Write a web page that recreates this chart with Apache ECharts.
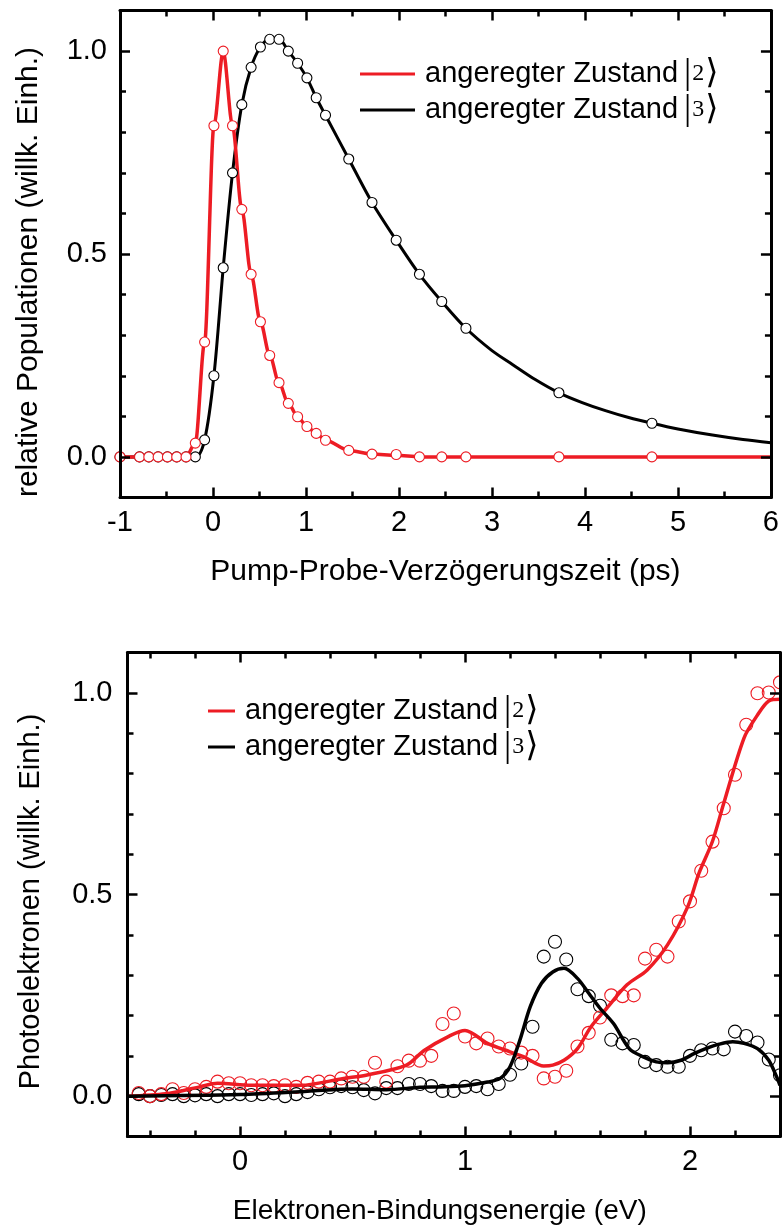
<!DOCTYPE html>
<html><head><meta charset="utf-8">
<script src="https://cdn.jsdelivr.net/npm/echarts@6/dist/echarts.min.js"></script>
<style>html,body{margin:0;padding:0;background:#fff}#c{width:782px;height:1232px}</style>
</head><body><div id="c"></div>
<script>
// ---------- top panel: populations vs. pump-probe delay ----------
const delayTimes = [-1.0, -0.79, -0.69, -0.59, -0.49, -0.39, -0.29, -0.19, -0.09, 0.01, 0.11, 0.21, 0.31, 0.41, 0.51, 0.61, 0.71, 0.81, 0.91, 1.01, 1.11, 1.21, 1.46, 1.71, 1.97, 2.22, 2.46, 2.72, 3.72, 4.72];
const popState2 = [0, 0, 0, 0, 0, 0, 0, 0.034, 0.283, 0.816, 1.0, 0.816, 0.61, 0.45, 0.333, 0.25, 0.183, 0.132, 0.099, 0.075, 0.058, 0.041, 0.016, 0.007, 0.006, 0, 0, 0, 0, 0];
const popState3 = [0, 0, 0, 0, 0, 0, 0, 0, 0.042, 0.20, 0.466, 0.70, 0.868, 0.96, 1.01, 1.029, 1.029, 1.0, 0.97, 0.934, 0.885, 0.842, 0.734, 0.627, 0.534, 0.45, 0.383, 0.317, 0.158, 0.083];
const fitTimes2 = [-1.0, -0.29, -0.19, -0.09, 0.01, 0.11, 0.21, 0.31, 0.41, 0.51, 0.61, 0.71, 0.81, 0.91, 1.01, 1.11, 1.21, 1.46, 1.71, 1.97, 2.22, 6.0];
const fitPop2  = [0, 0, 0.034, 0.283, 0.816, 1.0, 0.816, 0.61, 0.45, 0.333, 0.25, 0.183, 0.132, 0.099, 0.075, 0.058, 0.041, 0.016, 0.007, 0.004, 0.0, 0.0];
const fitTimes3 = [-1.0, -0.19, -0.09, 0.01, 0.11, 0.21, 0.31, 0.41, 0.51, 0.61, 0.71, 0.81, 0.91, 1.01, 1.11, 1.21, 1.46, 1.71, 1.97, 2.22, 2.46, 2.72, 3.0, 3.22, 3.47, 3.72, 3.97, 4.22, 4.47, 4.72, 5.0, 5.37, 5.7, 6.0];
const fitPop3  = [0, 0, 0.042, 0.20, 0.466, 0.70, 0.868, 0.96, 1.01, 1.029, 1.029, 1.0, 0.97, 0.934, 0.885, 0.842, 0.734, 0.627, 0.534, 0.45, 0.383, 0.317, 0.262, 0.228, 0.19, 0.158, 0.134, 0.114, 0.097, 0.083, 0.069, 0.054, 0.043, 0.035];
const topXTicks = [-1, 0, 1, 2, 3, 4, 5, 6];
const topXMinor = [-0.5, 0.5, 1.5, 2.5, 3.5, 4.5, 5.5];
const yTicks = [0, 0.5, 1.0];
const yMinor = [-0.1, 0.1, 0.2, 0.3, 0.4, 0.6, 0.7, 0.8, 0.9, 1.1];

// ---------- bottom panel: photoelectron spectra ----------
const energies = [-0.45, -0.40, -0.35, -0.30, -0.25, -0.20, -0.15, -0.10, -0.05, 0.00, 0.05, 0.10, 0.15, 0.20, 0.25, 0.30, 0.35, 0.40, 0.45, 0.50, 0.55, 0.60, 0.65, 0.70, 0.75, 0.80, 0.85, 0.90, 0.95, 1.00, 1.05, 1.10, 1.15, 1.20, 1.25, 1.30, 1.35, 1.40, 1.45, 1.50, 1.55, 1.60, 1.65, 1.70, 1.75, 1.80, 1.85, 1.90, 1.95, 2.00, 2.05, 2.10, 2.15, 2.20, 2.25, 2.30, 2.35, 2.40];
const pesState2 = [0.008, 0.000, 0.005, 0.017, 0.008, 0.017, 0.023, 0.036, 0.032, 0.032, 0.027, 0.027, 0.025, 0.027, 0.023, 0.033, 0.036, 0.036, 0.044, 0.048, 0.048, 0.083, 0.036, 0.074, 0.088, 0.088, 0.100, 0.179, 0.205, 0.148, 0.131, 0.143, 0.123, 0.118, 0.108, 0.100, 0.044, 0.048, 0.063, 0.123, 0.157, 0.195, 0.250, 0.248, 0.250, 0.341, 0.363, 0.346, 0.433, 0.483, 0.559, 0.631, 0.714, 0.797, 0.921, 0.999, 1.001, 1.026];
const pesState3 = [0.005, 0.000, 0.003, 0.005, 0.000, 0.002, 0.005, 0.000, 0.005, 0.005, 0.003, 0.005, 0.007, 0.000, 0.005, 0.010, 0.017, 0.022, 0.025, 0.022, 0.015, 0.007, 0.020, 0.020, 0.030, 0.030, 0.025, 0.013, 0.013, 0.023, 0.025, 0.017, 0.030, 0.053, 0.081, 0.172, 0.346, 0.383, 0.339, 0.265, 0.248, 0.224, 0.140, 0.131, 0.127, 0.085, 0.077, 0.073, 0.073, 0.100, 0.114, 0.118, 0.116, 0.160, 0.149, 0.133, 0.091, 0.052];
const fitE2 = [-0.5, -0.33, -0.18, -0.10, 0.05, 0.27, 0.46, 0.56, 0.74, 0.82, 0.93, 1.00, 1.10, 1.20, 1.26, 1.35, 1.39, 1.44, 1.50, 1.56, 1.63, 1.72, 1.81, 1.90, 1.99, 2.04, 2.10, 2.15, 2.24, 2.30, 2.35, 2.40];
const fitV2 = [0.0, 0.006, 0.023, 0.032, 0.027, 0.027, 0.044, 0.052, 0.077, 0.114, 0.149, 0.163, 0.131, 0.110, 0.098, 0.075, 0.077, 0.089, 0.118, 0.172, 0.218, 0.276, 0.313, 0.375, 0.470, 0.553, 0.632, 0.726, 0.888, 0.945, 0.980, 0.984];
const fitE3 = [-0.5, 0.0, 0.3, 0.5, 0.65, 0.8, 0.89, 1.0, 1.1, 1.156, 1.2, 1.244, 1.29, 1.34, 1.39, 1.44, 1.5, 1.55, 1.6, 1.66, 1.73, 1.79, 1.85, 1.9, 1.96, 2.02, 2.07, 2.13, 2.19, 2.24, 2.3, 2.35, 2.385, 2.4];
const fitV3 = [0.0, 0.004, 0.012, 0.018, 0.016, 0.022, 0.023, 0.026, 0.035, 0.044, 0.073, 0.139, 0.222, 0.280, 0.308, 0.317, 0.292, 0.255, 0.218, 0.18, 0.118, 0.098, 0.085, 0.083, 0.089, 0.106, 0.118, 0.129, 0.135, 0.131, 0.118, 0.089, 0.048, 0.027];
const botXTicks = [0, 1, 2];
const botXMinor = [-0.4, -0.2, 0.2, 0.4, 0.6, 0.8, 1.2, 1.4, 1.6, 1.8, 2.2, 2.4];

const legendText = 'angeregter Zustand';
const ketDigits = ['2', '3'];

const RED = '#ed1c24', BLACK = '#000';
const FONT = "'Liberation Sans', Arial, sans-serif";
const SERIF = "'Liberation Serif', 'DejaVu Serif', serif";
const FS = 29;

function zip(a, b) { return a.map((v, i) => [v, b[i]]); }

function axesFor(dim, grid, min, max, majors, minors, fmt, name, nameGap, margin, nameStyle) {
  const isX = dim === 'x';
  const p1 = isX ? 'bottom' : 'left', p2 = isX ? 'top' : 'right';
  const base = { type: 'value', gridIndex: grid, min: min, max: max, splitLine: { show: false }, z: 10 };
  const tickStyle = { color: '#000', width: 2.5 };
  const main = Object.assign({}, base, {
    position: p1,
    axisLine: { show: true, onZero: false, lineStyle: { color: '#000', width: 3 } },
    axisTick: { show: true, inside: true, length: 10, lineStyle: tickStyle, customValues: majors },
    axisLabel: { show: true, customValues: majors, formatter: fmt, margin: margin, color: '#000', fontSize: FS, fontFamily: FONT },
    name: name, nameLocation: 'middle', nameGap: nameGap,
    nameTextStyle: Object.assign({ color: '#000', fontSize: FS, fontFamily: FONT }, nameStyle || {})
  });
  const minor1 = Object.assign({}, base, {
    position: p1,
    axisLine: { show: false, onZero: false },
    axisTick: { show: true, inside: true, length: 6, lineStyle: tickStyle, customValues: minors },
    axisLabel: { show: false }
  });
  const mirror = Object.assign({}, base, {
    position: p2,
    axisLine: { show: true, onZero: false, lineStyle: { color: '#000', width: 3 } },
    axisTick: { show: true, inside: true, length: 10, lineStyle: tickStyle, customValues: majors },
    axisLabel: { show: false }
  });
  const minor2 = Object.assign({}, minor1, { position: p2 });
  return [main, minor1, mirror, minor2];
}

const fmtInt = v => String(Math.round(v));
const fmt1 = v => v.toFixed(1);

const xAxes = [].concat(
  axesFor('x', 0, -1, 6, topXTicks, topXMinor, fmtInt, 'Pump-Probe-Verzögerungszeit (ps)', 59, 11, { fontSize: 30 }),
  axesFor('x', 1, -0.5, 2.4, botXTicks, botXMinor, fmtInt, 'Elektronen-Bindungsenergie (eV)', 61, 11, { fontSize: 28, padding: [0, 28, 0, 0] })
);
const yAxes = [].concat(
  axesFor('y', 0, -0.1, 1.1, yTicks, yMinor, fmt1, 'relative Populationen (willk. Einh.)', 76, 13, { fontSize: 30, padding: [0, 36, 0, 0] }),
  axesFor('y', 1, -0.1, 1.1, yTicks, yMinor, fmt1, 'Photoelektronen (willk. Einh.)', 82, 15, { padding: [0, 14, 0, 0] })
);

function lineSeries(name, xi, yi, data, color, width, z, mono) {
  const s = { name: name, type: 'line', xAxisIndex: xi, yAxisIndex: yi, data: data, smooth: 0.3,
    showSymbol: false, symbol: 'none', lineStyle: { color: color, width: width }, itemStyle: { color: color }, z: z, animation: false };
  if (mono) s.smoothMonotone = 'x';
  return s;
}
function scatterSeries(name, xi, yi, data, color, size, fill, z) {
  return { name: name, type: 'scatter', xAxisIndex: xi, yAxisIndex: yi, data: data, symbol: 'circle', symbolSize: size,
    itemStyle: { color: fill, borderColor: color, borderWidth: 1.1, opacity: 1 }, z: z, animation: false };
}

const legendRich = {
  t: { fontSize: FS, lineHeight: 30, fontFamily: FONT, color: '#000', padding: [0, 0, 0, 5], verticalAlign: 'middle' },
  b: { fontSize: 36, lineHeight: 30, fontFamily: SERIF, color: '#000', verticalAlign: 'middle', padding: [0, 1, 0, 6] },
  d: { fontSize: 24, lineHeight: 30, fontFamily: SERIF, color: '#000', verticalAlign: 'middle' },
  a: { fontSize: 34, lineHeight: 30, fontFamily: SERIF, color: '#000', verticalAlign: 'middle', padding: [0, 0, 0, 1] }
};
function legendFor(names, left, top, itemWidth) {
  return {
    data: names, left: left, top: top, orient: 'vertical', icon: 'rect', itemWidth: itemWidth, itemHeight: 3,
    itemGap: 0, selectedMode: false, padding: 0,
    textStyle: { lineHeight: 30, rich: legendRich },
    formatter: function (n) {
      const i = names.indexOf(n);
      return '{t|' + legendText + '}{b||}{d|' + ketDigits[i] + '}{a|\u27E9}';
    }
  };
}

const option = {
  animation: false,
  backgroundColor: '#fff',
  grid: [
    { left: 120, right: 10, top: 10.5, height: 487, containLabel: false },
    { left: 127.5, right: 2, top: 652.5, height: 484, containLabel: false }
  ],
  xAxis: xAxes,
  yAxis: yAxes,
  legend: [
    legendFor(['top2', 'top3'], 360, 56, 55),
    legendFor(['bot2', 'bot3'], 208, 693, 27)
  ],
  series: [
    lineSeries('top3', 0, 0, zip(fitTimes3, fitPop3), BLACK, 3, 2, false),
    lineSeries('top2', 0, 0, zip(fitTimes2, fitPop2), RED, 3.5, 3, true),
    scatterSeries('top3pts', 0, 0, zip(delayTimes, popState3), BLACK, 10, '#fff', 4),
    scatterSeries('top2pts', 0, 0, zip(delayTimes, popState2), RED, 10, '#fff', 5),
    scatterSeries('bot3pts', 4, 4, zip(energies, pesState3), BLACK, 13, 'rgba(255,255,255,0)', 2),
    scatterSeries('bot2pts', 4, 4, zip(energies, pesState2), RED, 13, 'rgba(255,255,255,0)', 2),
    lineSeries('bot2', 4, 4, zip(fitE2, fitV2), RED, 3.5, 4, false),
    lineSeries('bot3', 4, 4, zip(fitE3, fitV3), BLACK, 3.5, 5, false)
  ]
};
const chart = echarts.init(document.getElementById('c'), null, { renderer: 'canvas' });
chart.setOption(option);
</script>
</body></html>
